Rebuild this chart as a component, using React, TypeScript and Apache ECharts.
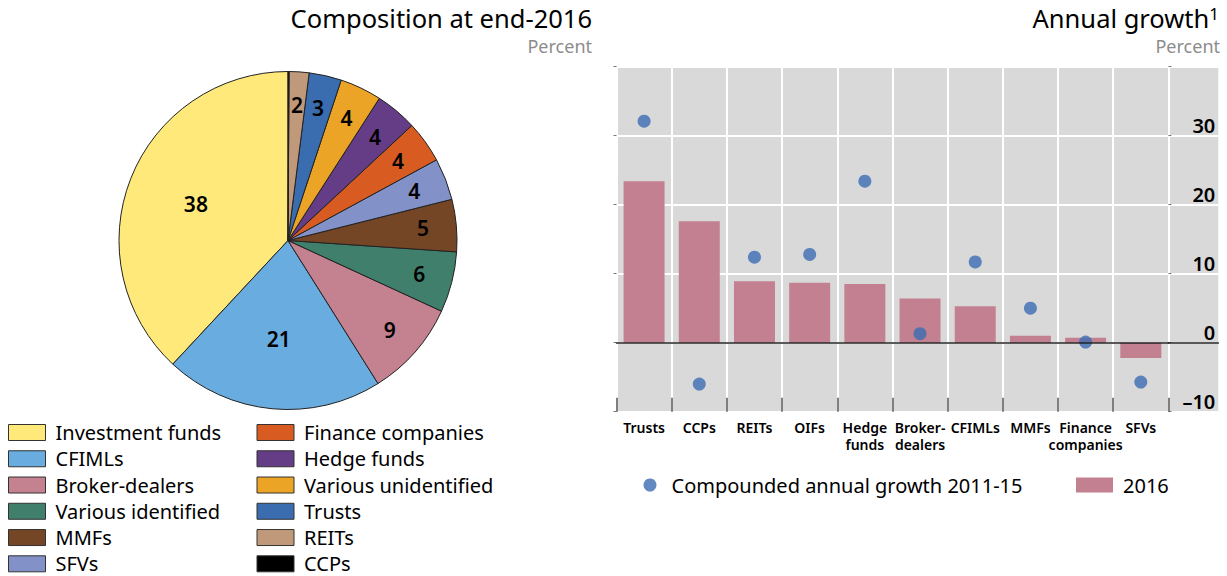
import React, { useEffect, useRef } from "react";
import * as echarts from "echarts";

// ---------- Data ----------
const pieNames = [
  "Investment funds",
  "CFIMLs",
  "Broker-dealers",
  "Various identified",
  "MMFs",
  "SFVs",
  "Finance companies",
  "Hedge funds",
  "Various unidentified",
  "Trusts",
  "REITs",
  "CCPs",
];
const pieShares = [38.1, 20.9, 9.2, 5.8, 5.0, 4.0, 4.0, 4.0, 4.0, 3.1, 1.9, 0.1];
const pieColors = [
  "#fee97a",
  "#69ade0",
  "#c48190",
  "#3f7f6b",
  "#744625",
  "#8291c8",
  "#d85c22",
  "#653c86",
  "#eba425",
  "#3a6cb0",
  "#c0997a",
  "#000000",
];
const innerLabelNames = ["Investment funds", "CFIMLs"];
const hiddenLabelNames = ["CCPs"];

const categories = [
  "Trusts",
  "CCPs",
  "REITs",
  "OIFs",
  "Hedge\nfunds",
  "Broker-\ndealers",
  "CFIMLs",
  "MMFs",
  "Finance\ncompanies",
  "SFVs",
];
const growth2016 = [23.4, 17.6, 8.9, 8.7, 8.5, 6.4, 5.3, 1.0, 0.7, -2.2];
const cagr2011to15 = [32.1, -6.0, 12.4, 12.8, 23.4, 1.3, 11.7, 5.0, 0.1, -5.7];
const yMin = -10;
const yMax = 40;
const yStep = 10;
const yShownTicks = [-10, 0, 10, 20, 30];

const seriesBarName = "2016";
const seriesDotName = "Compounded annual growth 2011-15";

const FONT = "'Noto Sans', sans-serif";

export default function App() {
  const ref = useRef<HTMLDivElement>(null);

  useEffect(() => {
    if (!ref.current) return;
    const chart = echarts.init(ref.current, null, { renderer: "svg" });

    const pieData = pieNames.map((n, i) => ({
      name: n,
      value: pieShares[i],
      itemStyle: { color: pieColors[i] },
    }));
    const overlayData = (inner: boolean) =>
      pieNames.map((n, i) => ({
        name: n,
        value: pieShares[i],
        label: {
          show:
            !hiddenLabelNames.includes(n) &&
            (inner ? innerLabelNames.includes(n) : !innerLabelNames.includes(n)),
        },
      }));

    const pieCenter = [288, 240.5];
    const R = 169;
    const overlayBase = {
      type: "pie",
      center: pieCenter,
      startAngle: 90,
      clockwise: false,
      silent: true,
      itemStyle: { color: "rgba(0,0,0,0)", borderWidth: 0 },
      emphasis: { disabled: true },
      labelLine: { show: false },
      label: {
        position: "inside",
        color: "#000",
        fontSize: 21,
        fontWeight: 600,
        fontFamily: FONT,
        formatter: (p: any) => String(Math.round(p.value)),
      },
    };

    const valueAxisCommon = {
      type: "value",
      min: yMin,
      max: yMax,
      interval: yStep,
      axisLine: { show: false },
      splitLine: { show: true, lineStyle: { color: "#ffffff", width: 2 } },
      axisTick: { show: true, length: 3, lineStyle: { color: "#777" } },
    };

    const zeroAxis = (gridIndex: number) => ({
      type: "value",
      gridIndex,
      min: 0,
      max: 1,
      position: "bottom",
      z: 5,
      axisLabel: { show: false },
      axisTick: { show: false },
      splitLine: { show: false },
      axisLine: { show: true, onZero: true, lineStyle: { color: "#222", width: 1.5 } },
    });

    const legendText = { fontSize: 20, lineHeight: 20, color: "#000", fontFamily: FONT };

    const option: any = {
      animation: false,
      textStyle: { fontFamily: FONT },
      title: [
        {
          text: "Composition at end-2016",
          right: 635,
          top: 5,
          padding: 0,
          textStyle: { fontSize: 25.5, fontWeight: "normal", color: "#000", fontFamily: FONT },
        },
        {
          text: "Percent",
          right: 635,
          top: 37,
          padding: 0,
          textStyle: { fontSize: 18, fontWeight: "normal", color: "#8c8c8c", fontFamily: FONT },
        },
        {
          text: "Annual growth{s|1}",
          right: 8,
          top: 5,
          padding: 0,
          textStyle: {
            fontSize: 25.5,
            fontWeight: "normal",
            color: "#000",
            fontFamily: FONT,
            rich: {
              s: { fontSize: 17, verticalAlign: "top", color: "#000", fontFamily: FONT },
            },
          },
        },
        {
          text: "Percent",
          right: 7,
          top: 37,
          padding: 0,
          textStyle: { fontSize: 18, fontWeight: "normal", color: "#8c8c8c", fontFamily: FONT },
        },
      ],
      legend: [
        {
          orient: "vertical",
          left: 8,
          top: 422.5,
          padding: 0,
          itemWidth: 37,
          itemHeight: 16,
          itemGap: 6.26,
          icon: "rect",
          selectedMode: false,
          itemStyle: { borderColor: "#333", borderWidth: 1 },
          textStyle: { ...legendText, padding: [0, 0, 0, 5] },
          data: pieNames.slice(0, 6),
        },
        {
          orient: "vertical",
          left: 256.5,
          top: 422.5,
          padding: 0,
          itemWidth: 37,
          itemHeight: 16,
          itemGap: 6.26,
          icon: "rect",
          selectedMode: false,
          itemStyle: { borderColor: "#333", borderWidth: 1 },
          textStyle: { ...legendText, padding: [0, 0, 0, 5] },
          data: pieNames.slice(6),
        },
        {
          left: 643.5,
          top: 475,
          padding: 0,
          itemWidth: 13,
          itemHeight: 13,
          icon: "circle",
          selectedMode: false,
          textStyle: { ...legendText, padding: [0, 0, 0, 10] },
          data: [seriesDotName],
        },
        {
          left: 1076,
          top: 475,
          padding: 0,
          itemWidth: 37,
          itemHeight: 15,
          icon: "rect",
          selectedMode: false,
          itemStyle: { borderWidth: 0 },
          textStyle: { ...legendText, padding: [0, 0, 0, 5] },
          data: [seriesBarName],
        },
      ],
      grid: [
        {
          left: 616.5,
          top: 66.7,
          width: 551.9,
          height: 345,
          show: true,
          backgroundColor: "#d9d9d9",
          borderWidth: 0,
        },
        {
          left: 1168.4,
          top: 66.7,
          width: 49.9,
          height: 345,
          show: true,
          backgroundColor: "#d9d9d9",
          borderWidth: 0,
        },
      ],
      xAxis: [
        {
          type: "category",
          gridIndex: 0,
          data: categories,
          boundaryGap: true,
          position: "bottom",
          axisLine: { show: false, onZero: false },
          axisTick: { show: true, inside: true, length: 14, interval: 0, lineStyle: { color: "#555", width: 1.5 } },
          splitLine: { show: true, interval: 0, lineStyle: { color: "#ffffff", width: 2 } },
          axisLabel: {
            interval: 0,
            fontSize: 14,
            fontWeight: 600,
            lineHeight: 17,
            color: "#000",
            margin: 7,
            fontFamily: FONT,
          },
        },
        zeroAxis(0),
        zeroAxis(1),
      ],
      yAxis: [
        {
          ...valueAxisCommon,
          gridIndex: 0,
          position: "left",
          axisLabel: { show: false },
        },
        {
          ...valueAxisCommon,
          gridIndex: 1,
          position: "right",
          axisLabel: {
            show: true,
            inside: true,
            margin: 3,
            verticalAlign: "bottom",
            fontSize: 20,
            fontWeight: 600,
            color: "#000",
            fontFamily: FONT,
            formatter: (v: number) =>
              yShownTicks.includes(v) ? (v < 0 ? "\u2013" + Math.abs(v) : String(v)) : "",
          },
        },
      ],
      series: [
        {
          type: "pie",
          center: pieCenter,
          radius: R,
          startAngle: 90,
          clockwise: false,
          silent: true,
          data: pieData,
          label: { show: false },
          labelLine: { show: false },
          itemStyle: { borderColor: "#222", borderWidth: 1 },
          emphasis: { disabled: true },
        },
        { ...overlayBase, radius: [23, R], data: overlayData(true) },
        { ...overlayBase, radius: [96, R], data: overlayData(false) },
        {
          type: "bar",
          name: seriesBarName,
          xAxisIndex: 0,
          yAxisIndex: 0,
          data: growth2016,
          barWidth: 41,
          itemStyle: { color: "#c28090" },
          silent: true,
        },
        {
          type: "scatter",
          name: seriesDotName,
          xAxisIndex: 0,
          yAxisIndex: 0,
          data: cagr2011to15,
          symbol: "circle",
          symbolSize: 13,
          itemStyle: { color: "#3b6cb3" },
          z: 4,
          silent: true,
        },
      ],
    };

    chart.setOption(option);
    return () => chart.dispose();
  }, []);

  return (
    <div
      ref={ref}
      style={{ position: "absolute", left: 0, top: 0, width: 1227, height: 576, background: "#fff" }}
    />
  );
}
